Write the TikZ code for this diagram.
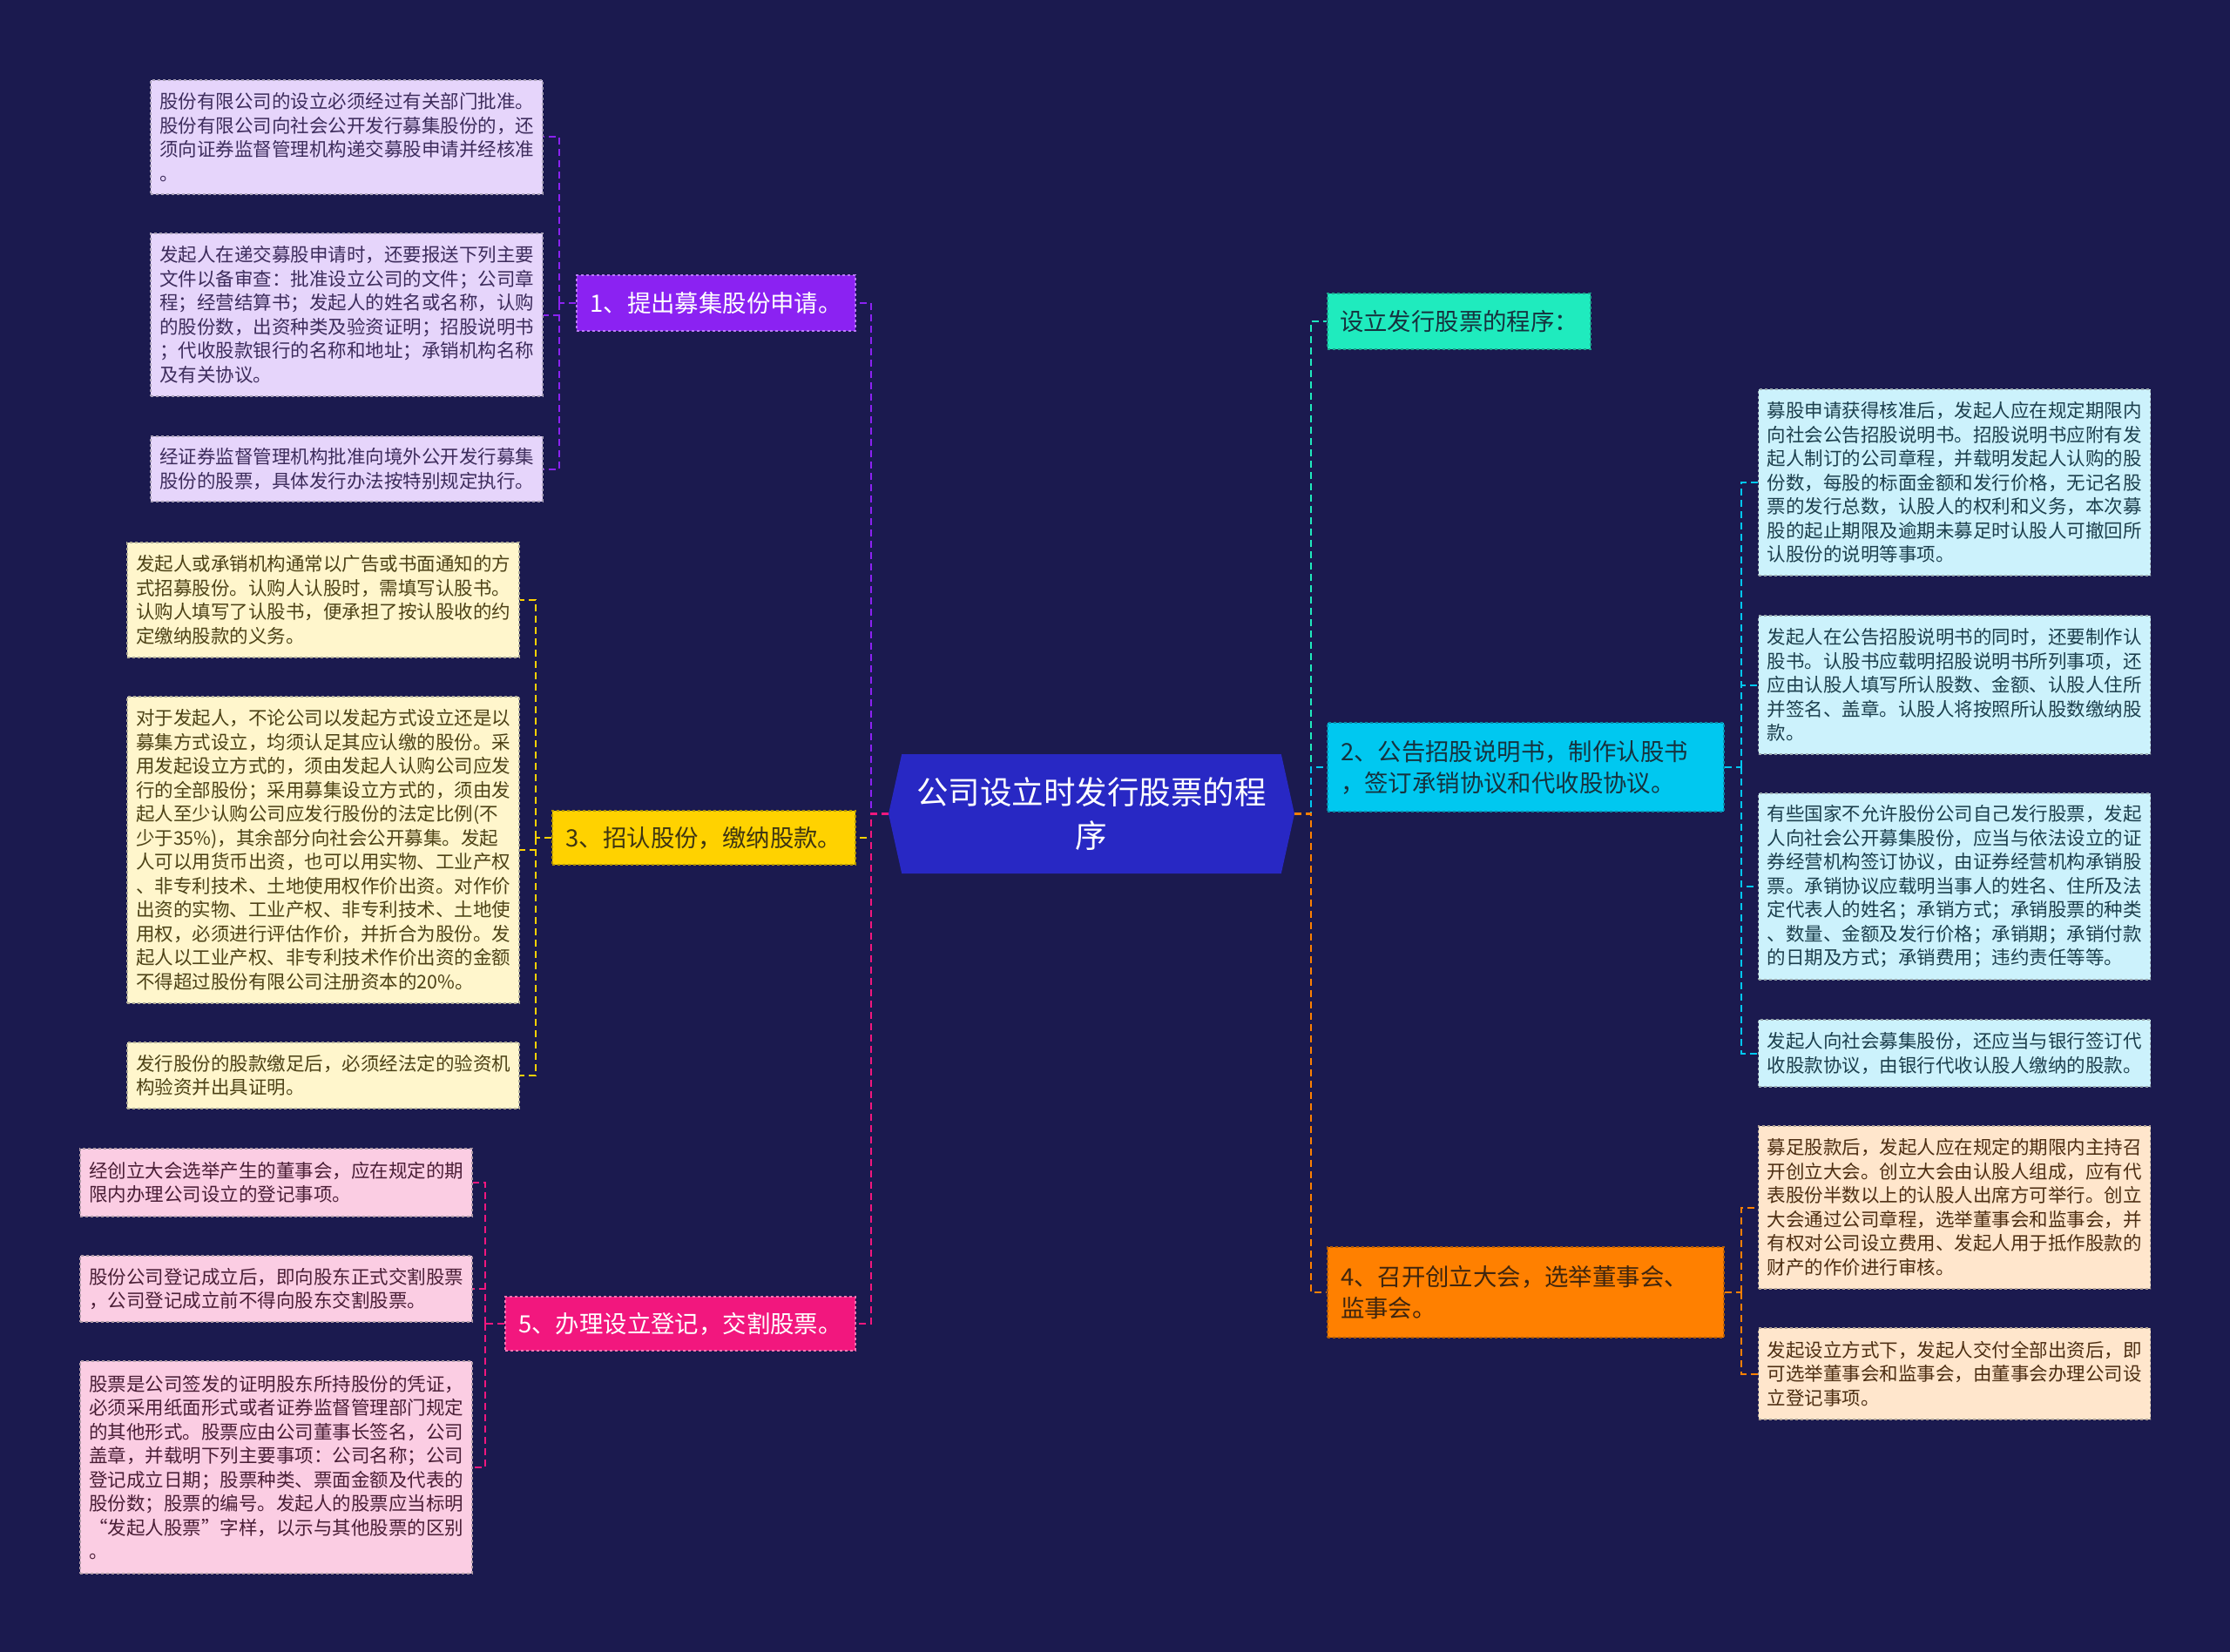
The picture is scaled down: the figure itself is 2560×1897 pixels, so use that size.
\documentclass[tikz,border=0pt]{standalone}
\usepackage{fontspec}
\setmainfont{Noto Sans CJK SC}
\usetikzlibrary{shapes.symbols}
\definecolor{night}{HTML}{1B1A4F}
\definecolor{royal}{HTML}{2828C4}
\definecolor{grape}{HTML}{8B22F2}
\definecolor{gold}{HTML}{FFD200}
\definecolor{rose}{HTML}{F2177E}
\definecolor{mint}{HTML}{1FEBBE}
\definecolor{sky}{HTML}{00C8F0}
\definecolor{amber}{HTML}{FF8000}
\definecolor{lavleaf}{HTML}{E6D5FB}
\definecolor{goldleaf}{HTML}{FFF6CC}
\definecolor{roseleaf}{HTML}{FBCDE3}
\definecolor{skyleaf}{HTML}{CCF2FC}
\definecolor{amberleaf}{HTML}{FFE6CC}
\definecolor{lavtext}{HTML}{3D2C5C}
\definecolor{goldtext}{HTML}{4D4216}
\definecolor{rosetext}{HTML}{4A1E36}
\definecolor{skytext}{HTML}{1C3F4D}
\definecolor{ambertext}{HTML}{4D2E12}

\begin{document}
\begin{tikzpicture}[x=1pt, y=-1pt,
  topic/.style 2 args={fill=#1, text=#2, draw=#2!40!#1, dashed, line width=1.2,
    font=\fontsize{27.4}{36}\selectfont, inner sep=0},
  leaf/.style 2 args={fill=#1, text=#2, draw=#2!45, dashed, line width=1.2,
    minimum width=450, text width=430, inner xsep=10, inner ysep=0, align=left,
    font=\fontsize{21.5}{27.5}\selectfont},
  wire/.style={draw=#1, dash pattern=on 8pt off 5pt, line width=2.6}]
% Background
\useasboundingbox (0,0) rectangle (2560,1897);
\fill[night] (0,0) rectangle (2560,1897);

% Root
\node[signal, signal to=west and east, signal pointer angle=155, fill=royal,
  minimum width=466, minimum height=137, inner sep=0, text=white, align=center,
  font=\fontsize{36.5}{50}\selectfont] (root) at (1253,934.5) {公司设立时发行股票的程\\序};

% Branches, left
\node[topic={grape}{white}, minimum width=320, minimum height=64] (n1) at (822,348) {1、提出募集股份申请。};
\node[topic={gold}{goldtext!80!black}, minimum width=348, minimum height=62] (n3) at (808,962) {3、招认股份，缴纳股款。};
\node[topic={rose}{white}, minimum width=402, minimum height=62] (n5) at (781,1520) {5、办理设立登记，交割股票。};

% Branches, right
\node[topic={mint}{skytext!80!black}, minimum width=302, minimum height=64] (r0) at (1675,369) {设立发行股票的程序：};
\node[topic={sky}{skytext!80!black}, text width=425, inner xsep=15, align=left, minimum height=102] (r2) at (1751.5,881) {2、公告招股说明书，制作认股书\\，签订承销协议和代收股协议。};
\node[topic={amber}{ambertext!80!black}, text width=425, inner xsep=15, align=left, minimum height=104] (r4) at (1751.5,1484) {4、召开创立大会，选举董事会、\\监事会。};

% Leaves of 1
\node[leaf={lavleaf}{lavtext}, minimum height=131] (a1) at (398,157.5) {股份有限公司的设立必须经过有关部门批准。\\股份有限公司向社会公开发行募集股份的，还\\须向证券监督管理机构递交募股申请并经核准\\。};
\node[leaf={lavleaf}{lavtext}, minimum height=187] (a2) at (398,361.5) {发起人在递交募股申请时，还要报送下列主要\\文件以备审查：批准设立公司的文件；公司章\\程；经营结算书；发起人的姓名或名称，认购\\的股份数，出资种类及验资证明；招股说明书\\；代收股款银行的名称和地址；承销机构名称\\及有关协议。};
\node[leaf={lavleaf}{lavtext}, minimum height=75] (a3) at (398,538.5) {经证券监督管理机构批准向境外公开发行募集\\股份的股票，具体发行办法按特别规定执行。};

% Leaves of 3
\node[leaf={goldleaf}{goldtext}, minimum height=132] (b1) at (371,689) {发起人或承销机构通常以广告或书面通知的方\\式招募股份。认购人认股时，需填写认股书。\\认购人填写了认股书，便承担了按认股收的约\\定缴纳股款的义务。};
\node[leaf={goldleaf}{goldtext}, minimum height=352] (b2) at (371,976) {对于发起人，不论公司以发起方式设立还是以\\募集方式设立，均须认足其应认缴的股份。采\\用发起设立方式的，须由发起人认购公司应发\\行的全部股份；采用募集设立方式的，须由发\\起人至少认购公司应发行股份的法定比例(不\\少于35\%)，其余部分向社会公开募集。发起\\人可以用货币出资，也可以用实物、工业产权\\、非专利技术、土地使用权作价出资。对作价\\出资的实物、工业产权、非专利技术、土地使\\用权，必须进行评估作价，并折合为股份。发\\起人以工业产权、非专利技术作价出资的金额\\不得超过股份有限公司注册资本的20\%。};
\node[leaf={goldleaf}{goldtext}, minimum height=76] (b3) at (371,1235) {发行股份的股款缴足后，必须经法定的验资机\\构验资并出具证明。};

% Leaves of 5
\node[leaf={roseleaf}{rosetext}, minimum height=78] (c1) at (317,1358) {经创立大会选举产生的董事会，应在规定的期\\限内办理公司设立的登记事项。};
\node[leaf={roseleaf}{rosetext}, minimum height=76] (c2) at (317,1480) {股份公司登记成立后，即向股东正式交割股票\\，公司登记成立前不得向股东交割股票。};
\node[leaf={roseleaf}{rosetext}, minimum height=244] (c3) at (317,1685) {股票是公司签发的证明股东所持股份的凭证，\\必须采用纸面形式或者证券监督管理部门规定\\的其他形式。股票应由公司董事长签名，公司\\盖章，并载明下列主要事项：公司名称；公司\\登记成立日期；股票种类、票面金额及代表的\\股份数；股票的编号。发起人的股票应当标明\\“发起人股票”字样，以示与其他股票的区别\\。};

% Leaves of 2
\node[leaf={skyleaf}{skytext}, minimum height=214] (d1) at (2243.5,554) {募股申请获得核准后，发起人应在规定期限内\\向社会公告招股说明书。招股说明书应附有发\\起人制订的公司章程，并载明发起人认购的股\\份数，每股的标面金额和发行价格，无记名股\\票的发行总数，认股人的权利和义务，本次募\\股的起止期限及逾期未募足时认股人可撤回所\\认股份的说明等事项。};
\node[leaf={skyleaf}{skytext}, minimum height=159] (d2) at (2243.5,786.5) {发起人在公告招股说明书的同时，还要制作认\\股书。认股书应载明招股说明书所列事项，还\\应由认股人填写所认股数、金额、认股人住所\\并签名、盖章。认股人将按照所认股数缴纳股\\款。};
\node[leaf={skyleaf}{skytext}, minimum height=214] (d3) at (2243.5,1018) {有些国家不允许股份公司自己发行股票，发起\\人向社会公开募集股份，应当与依法设立的证\\券经营机构签订协议，由证券经营机构承销股\\票。承销协议应载明当事人的姓名、住所及法\\定代表人的姓名；承销方式；承销股票的种类\\、数量、金额及发行价格；承销期；承销付款\\的日期及方式；承销费用；违约责任等等。};
\node[leaf={skyleaf}{skytext}, minimum height=77] (d4) at (2243.5,1209.5) {发起人向社会募集股份，还应当与银行签订代\\收股款协议，由银行代收认股人缴纳的股款。};

% Leaves of 4
\node[leaf={amberleaf}{ambertext}, minimum height=187] (e1) at (2243.5,1386.5) {募足股款后，发起人应在规定的期限内主持召\\开创立大会。创立大会由认股人组成，应有代\\表股份半数以上的认股人出席方可举行。创立\\大会通过公司章程，选举董事会和监事会，并\\有权对公司设立费用、发起人用于抵作股款的\\财产的作价进行审核。};
\node[leaf={amberleaf}{ambertext}, minimum height=105] (e2) at (2243.5,1577.5) {发起设立方式下，发起人交付全部出资后，即\\可选举董事会和监事会，由董事会办理公司设\\立登记事项。};

% Junctions
\coordinate (lj) at (1000,934.5);
\coordinate (rj) at (1505,934.5);
\coordinate (j1) at (642,348);
\coordinate (j3) at (615,962);
\coordinate (j5) at (557,1520);
\coordinate (k2) at (1999,881);
\coordinate (k4) at (1999,1484);

% Root links
\draw[wire=gold] (root.west) -- (lj) |- (n3.east);
\draw[wire=grape] (root.west) -- (lj) |- (n1.east);
\draw[wire=rose] (root.west) -- (lj) |- (n5.east);
\draw[wire=mint] (root.east) -- (rj) |- (r0.west);
\draw[wire=sky] (root.east) -- (rj) |- (r2.west);
\draw[wire=amber] (root.east) -- (rj) |- (r4.west);

% Leaf links
\draw[wire=grape, line width=2] (n1.west) -- (j1);
\foreach \leaf in {a1,a2,a3} \draw[wire=grape, line width=2] (j1) |- (\leaf.east);
\draw[wire=gold, line width=2] (n3.west) -- (j3);
\foreach \leaf in {b1,b2,b3} \draw[wire=gold, line width=2] (j3) |- (\leaf.east);
\draw[wire=rose, line width=2] (n5.west) -- (j5);
\foreach \leaf in {c1,c2,c3} \draw[wire=rose, line width=2] (j5) |- (\leaf.east);
\draw[wire=sky, line width=2] (r2.east) -- (k2);
\foreach \leaf in {d1,d2,d3,d4} \draw[wire=sky, line width=2] (k2) |- (\leaf.west);
\draw[wire=amber, line width=2] (r4.east) -- (k4);
\foreach \leaf in {e1,e2} \draw[wire=amber, line width=2] (k4) |- (\leaf.west);

\end{tikzpicture}
\end{document}
